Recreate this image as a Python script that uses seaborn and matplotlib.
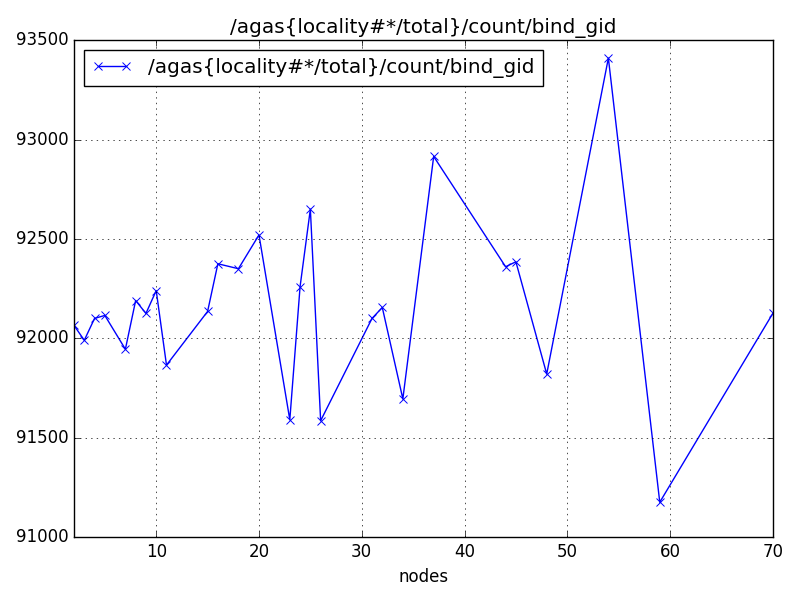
import matplotlib
matplotlib.use("Agg")
import matplotlib.pyplot as plt
import seaborn as sns
import pandas as pd

# --- DATA ---
COUNTER = "/agas{locality#*/total}/count/bind_gid"
nodes = [2, 3, 4, 5, 7, 8, 9, 10, 11, 15, 16, 18, 20, 23, 24, 25, 26,
         31, 32, 34, 37, 44, 45, 48, 54, 59, 70]
counts = [92065, 91990, 92100, 92115, 91945, 92190, 92125, 92240, 91865,
          92135, 92375, 92350, 92520, 91590, 92260, 92650, 91585,
          92100, 92155, 91695, 92915, 92360, 92385, 91820, 93410, 91175, 92125]

df = pd.DataFrame({"nodes": nodes, "count": counts})

plt.style.use("classic")
fig, ax = plt.subplots(figsize=(8, 6), dpi=100)

sns.lineplot(data=df, x="nodes", y="count", marker="x", color="blue",
             markeredgecolor="blue", markersize=6, mew=0.7, label=COUNTER, ax=ax)

ax.set_xlim(2, 70)
ax.set_ylim(91000, 93500)
ax.ticklabel_format(axis="y", useOffset=False, style="plain")
ax.grid(True, color="black", linestyle=":")
ax.set_xlabel("nodes")
ax.set_ylabel("")
ax.set_title(COUNTER)
ax.legend(loc="upper left", numpoints=2)

fig.subplots_adjust(left=0.0925, right=0.966, top=0.933, bottom=0.105)
fig.savefig("out.png", dpi=100)
